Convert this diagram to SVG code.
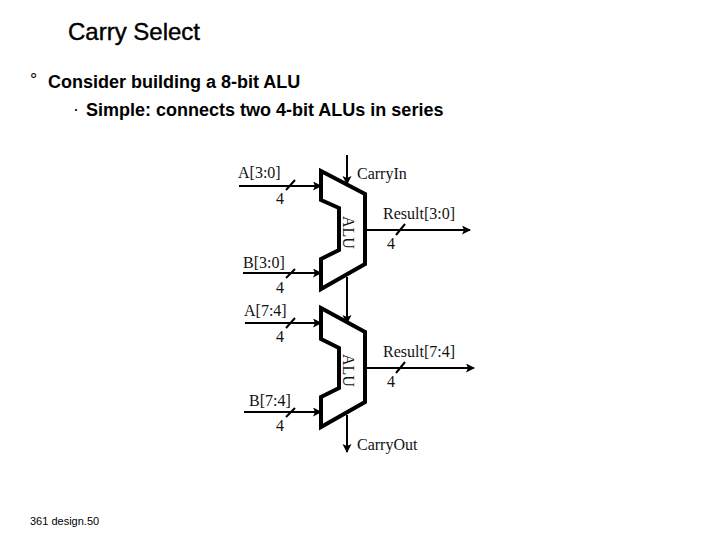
<svg xmlns="http://www.w3.org/2000/svg" width="720" height="540" viewBox="0 0 720 540">
<style>
.s{font-family:"Liberation Serif","Times New Roman",serif;font-size:16px;fill:#111}
.h{font-family:"Liberation Sans",Arial,sans-serif;font-weight:bold;fill:#000}
.w{fill:none;stroke:#000;stroke-width:2}
.a{fill:#fff;stroke:#000;stroke-width:4;stroke-linejoin:miter}
</style>
<defs>
<marker id="ah" markerUnits="userSpaceOnUse" markerWidth="10" markerHeight="10" refX="8" refY="4.5" orient="auto"><path d="M0 0L9 4.5L0 9L2 4.5Z" fill="#000"/></marker>
</defs>
<rect width="720" height="540" fill="#fff"/>
<text class="h" x="68" y="40" font-size="24" style="font-weight:normal;stroke:#000;stroke-width:.4">Carry Select</text>
<text class="h" x="30" y="86" font-size="18" style="font-weight:normal">°</text>
<text class="h" x="48" y="88" font-size="18">Consider building a 8-bit ALU</text>
<text class="h" x="73" y="115" font-size="18" style="font-weight:normal">·</text>
<text class="h" x="86" y="116" font-size="18">Simple: connects two 4-bit ALUs in series</text>
<text x="30" y="525" font-family="Liberation Sans,sans-serif" font-size="11" fill="#000">361 design.50</text>
<g id="connectors">
<path class="w" d="M239 186H321" marker-end="url(#ah)"/>
<path class="w" d="M243 273H321" marker-end="url(#ah)"/>
<path class="w" d="M347 155V184" marker-end="url(#ah)"/>
<path class="w" d="M365 230H470" marker-end="url(#ah)"/>
<path class="w" d="M347 277V323" marker-end="url(#ah)"/>
<path class="w" d="M245 323H321" marker-end="url(#ah)"/>
<path class="w" d="M244 412H321" marker-end="url(#ah)"/>
<path class="w" d="M365 368H474" marker-end="url(#ah)"/>
<path class="w" d="M347 415V452" marker-end="url(#ah)"/>
<path class="w" d="M286 190L295 180M286 278L295 269M396 235L405 224M286 328L295 318M286 417L295 408M396 373L405 362"/>
</g>
<g id="alu1">
<path class="a" d="M321 171L365 194V264L321 289V259L339 250V208L321 200Z"/>
<text class="s" transform="translate(343,216) rotate(90)">ALU</text>
</g>
<g id="alu2">
<path class="a" d="M321 308L365 332V402L321 427V397L339 388V348L321 339Z"/>
<text class="s" transform="translate(343,354) rotate(90)">ALU</text>
</g>
<g id="labels">
<text class="s" x="238" y="178">A[3:0]</text>
<text class="s" x="357" y="179">CarryIn</text>
<text class="s" x="276" y="204">4</text>
<text class="s" x="383" y="219">Result[3:0]</text>
<text class="s" x="387" y="249">4</text>
<text class="s" x="243" y="268">B[3:0]</text>
<text class="s" x="276" y="293">4</text>
<text class="s" x="244" y="316">A[7:4]</text>
<text class="s" x="276" y="342">4</text>
<text class="s" x="383" y="357">Result[7:4]</text>
<text class="s" x="387" y="387">4</text>
<text class="s" x="249" y="406">B[7:4]</text>
<text class="s" x="276" y="431">4</text>
<text class="s" x="357" y="450">CarryOut</text>
</g>
</svg>
